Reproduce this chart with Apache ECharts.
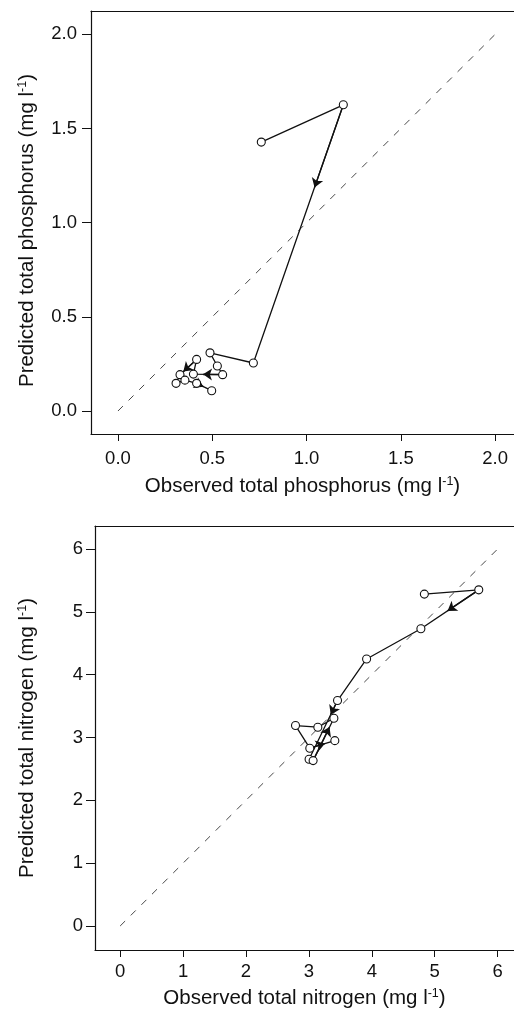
<!DOCTYPE html>
<html>
<head>
<meta charset="utf-8">
<script src="https://cdn.jsdelivr.net/npm/echarts@6/dist/echarts.min.js"></script>
<style>
  html, body { margin: 0; background: #fff; }
  #chart { width: 514px; height: 1010px; }
</style>
</head>
<body>
<div id="chart"></div>
<script>
// tick values
const phosTicks = [0, 0.5, 1.0, 1.5, 2.0];
const nitroTicks = [0, 1, 2, 3, 4, 5, 6];

// phosphorus, in time order (observed vs predicted)
const phosObs  = [0.76, 1.195, 0.718, 0.488, 0.527, 0.555, 0.400, 0.417, 0.329, 0.308, 0.355, 0.417, 0.497];
const phosPred = [1.428, 1.626, 0.255, 0.309, 0.239, 0.193, 0.196, 0.274, 0.193, 0.147, 0.164, 0.147, 0.108];

// nitrogen, in time order
const nitroObs  = [4.835, 5.70, 4.78, 3.917, 3.455, 3.003, 3.067, 3.397, 3.142, 2.787, 3.014, 3.412];
const nitroPred = [5.282, 5.35, 4.73, 4.25, 3.588, 2.654, 2.632, 3.307, 3.164, 3.19, 2.83, 2.95];

// arrows: [segment start index, fraction along segment]
const phosArrows = [[1, 0.32], [5, 0.67], [7, 0.8], [11, 0.45]];
const nitroArrows = [[1, 0.54], [4, 0.24], [6, 0.79], [10, 0.6]];

const font = "'Liberation Sans', Arial, sans-serif";
const ink = '#111';

let chart = echarts.init(document.getElementById('chart'));

let pairs = (xs, ys) => xs.map((x, i) => [x, ys[i]]);

let arrowData = (xs, ys, arrows) => arrows.map(([i, t]) => {
  let x1 = xs[i] + (xs[i + 1] - xs[i]) * t;
  let y1 = ys[i] + (ys[i + 1] - ys[i]) * t;
  return { coords: [[xs[i], ys[i]], [x1, y1]] };
});

let nameStyle = (pad) => ({
  color: ink, fontSize: 20.5, fontFamily: font, padding: pad,
  rich: { s: { fontSize: 12.5, padding: [0, 0, 9, 0], color: ink, fontFamily: font } }
});

let bottomAxis = (grid, min, max, ticks, digits, name, margin, gap) => ({
  type: 'value', gridIndex: grid, position: 'bottom', min: min, max: max,
  axisLine: { onZero: false, lineStyle: { color: ink, width: 1.2 } },
  axisTick: { inside: false, length: 7, customValues: ticks, lineStyle: { color: ink, width: 1 } },
  axisLabel: {
    customValues: ticks, margin: margin, color: ink, fontSize: 18.5, fontFamily: font,
    formatter: (v) => v.toFixed(digits)
  },
  splitLine: { show: false },
  name: name, nameLocation: 'middle', nameGap: gap, nameTextStyle: nameStyle(0)
});

let topAxis = (grid, min, max) => ({
  type: 'value', gridIndex: grid, position: 'top', min: min, max: max,
  axisLine: { onZero: false, lineStyle: { color: ink, width: 1.2 } },
  axisTick: { show: false }, axisLabel: { show: false }, splitLine: { show: false }
});

let leftAxis = (grid, min, max, ticks, digits, name, margin, gap, pad) => ({
  type: 'value', gridIndex: grid, position: 'left', min: min, max: max,
  axisLine: { show: true, onZero: false, lineStyle: { color: ink, width: 1.2 } },
  axisTick: { show: true, inside: false, length: 9, customValues: ticks, lineStyle: { color: ink, width: 1 } },
  axisLabel: {
    customValues: ticks, margin: margin, color: ink, fontSize: 18.5, fontFamily: font,
    formatter: (v) => v.toFixed(digits)
  },
  splitLine: { show: false },
  name: name, nameLocation: 'middle', nameGap: gap, nameTextStyle: nameStyle(pad)
});

let pathSeries = (xi, yi, data) => ({
  type: 'line', xAxisIndex: xi, yAxisIndex: yi, data: data, z: 3,
  symbol: 'circle', symbolSize: 8, showAllSymbol: true,
  itemStyle: { color: '#fff', borderColor: ink, borderWidth: 1.1 },
  lineStyle: { color: ink, width: 1.3 }
});

let arrowSeries = (xi, yi, data) => ({
  type: 'lines', coordinateSystem: 'cartesian2d', xAxisIndex: xi, yAxisIndex: yi, z: 2,
  symbol: ['none', 'arrow'], symbolSize: 9,
  lineStyle: { color: ink, width: 1.3, opacity: 1 },
  data: data
});

let oneToOne = (xi, yi, ticks) => ({
  type: 'line', xAxisIndex: xi, yAxisIndex: yi, symbol: 'none', z: 1,
  data: [[ticks[0], ticks[0]], [ticks[ticks.length - 1], ticks[ticks.length - 1]]],
  lineStyle: { color: '#333', width: 0.9, type: [7, 8] }
});

chart.setOption({
  animation: false,
  backgroundColor: '#fff',
  grid: [
    { left: 91, top: 11, width: 423, height: 423 },
    { left: 95, top: 526, width: 419, height: 424 }
  ],
  xAxis: [
    bottomAxis(0, -0.143, 2.10, phosTicks, 1, 'Observed total phosphorus (mg l{s|-1})', 15, 41),
    topAxis(0, -0.143, 2.10),
    bottomAxis(1, -0.40, 6.26, nitroTicks, 0, 'Observed total nitrogen (mg l{s|-1})', 12, 37),
    topAxis(1, -0.40, 6.26)
  ],
  yAxis: [
    leftAxis(0, -0.122, 2.124, phosTicks, 1, 'Predicted total phosphorus (mg l{s|-1})', 14, 53, [0, 16, 0, 0]),
    leftAxis(1, -0.382, 6.366, nitroTicks, 0, 'Predicted total nitrogen (mg l{s|-1})', 12, 57, 0)
  ],
  series: [
    oneToOne(0, 0, phosTicks),
    arrowSeries(0, 0, arrowData(phosObs, phosPred, phosArrows)),
    pathSeries(0, 0, pairs(phosObs, phosPred)),
    oneToOne(2, 1, nitroTicks),
    arrowSeries(2, 1, arrowData(nitroObs, nitroPred, nitroArrows)),
    pathSeries(2, 1, pairs(nitroObs, nitroPred))
  ]
});
</script>
</body>
</html>
